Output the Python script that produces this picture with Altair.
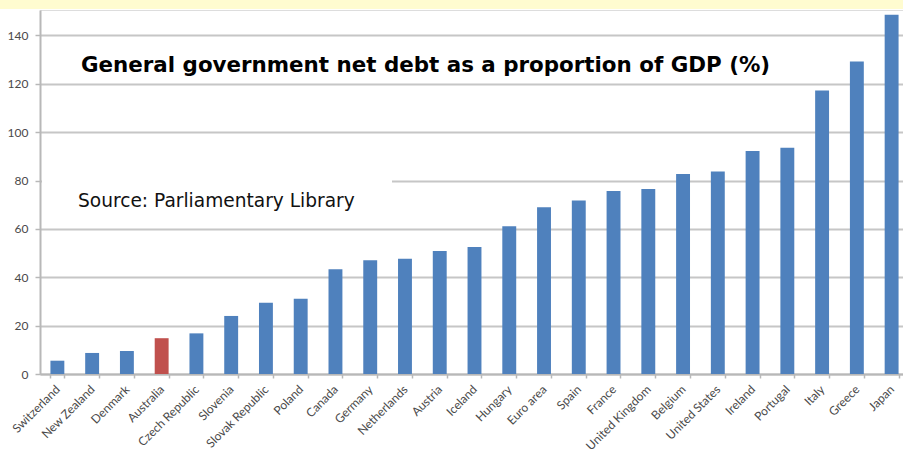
import altair as alt
import pandas as pd

countries = ["Switzerland", "New Zealand", "Denmark", "Australia", "Czech Republic",
             "Slovenia", "Slovak Republic", "Poland", "Canada", "Germany",
             "Netherlands", "Austria", "Iceland", "Hungary", "Euro area", "Spain",
             "France", "United Kingdom", "Belgium", "United States", "Ireland",
             "Portugal", "Italy", "Greece", "Japan"]
debt = [5.5, 8.7, 9.5, 14.8, 16.8, 24.0, 29.5, 31.1, 43.3, 47.0,
        47.6, 50.9, 52.5, 61.1, 68.9, 71.7, 75.7, 76.5, 82.7, 83.7,
        92.2, 93.5, 117.2, 129.2, 148.5]
highlight = ["Australia"]
y_ticks = [0, 20, 40, 60, 80, 100, 120, 140]

title_text = "General government net debt as a proportion of GDP (%)"
source_text = "Source: Parliamentary Library"

df = pd.DataFrame({
    "country": countries,
    "debt": debt,
    "group": ["hl" if c in highlight else "other" for c in countries],
})

W, H = 863, 364

bars = alt.Chart(df).mark_bar().encode(
    x=alt.X("country:N", sort=countries,
            scale=alt.Scale(range=[0, 869], paddingInner=0.6, paddingOuter=0.3),
            axis=alt.Axis(title=None, labelAngle=-45, labelAlign="right",
                          labelBaseline="middle", labelPadding=9, tickSize=4,
                          tickBand="extent", labelFont="Lato", labelFontSize=12,
                          labelColor="#4a4a4a", domainColor="#b8b8b8",
                          domainWidth=2, tickColor="#b8b8b8", tickWidth=1.5,
                          grid=False, labelOverlap=False)),
    y=alt.Y("debt:Q", scale=alt.Scale(domain=[0, 150.5], nice=False),
            axis=alt.Axis(title=None, values=y_ticks, grid=True, gridColor="#c6c6c6",
                          gridWidth=2, domainColor="#b8b8b8", domainWidth=2,
                          tickColor="#b8b8b8", tickSize=5, tickWidth=1.5,
                          labelFont="Lato", labelFontSize=12, labelColor="#4a4a4a",
                          labelPadding=7)),
    color=alt.Color("group:N", scale=alt.Scale(domain=["other", "hl"],
                                               range=["#4f81bd", "#c0504d"]),
                    legend=None),
)

strip = alt.Chart(pd.DataFrame({"a": [0]})).mark_rect(color="#fffcd0", clip=False).encode(
    x=alt.value(-40), x2=alt.value(W), y=alt.value(-10), y2=alt.value(-1))

source_bg = alt.Chart(pd.DataFrame({"a": [0]})).mark_rect(color="white").encode(
    x=alt.value(2), x2=alt.value(352), y=alt.value(162), y2=alt.value(212))

title = alt.Chart(pd.DataFrame({"t": [title_text]})).mark_text(
    font="DejaVu Sans", fontWeight="bold", fontSize=21.4, align="left",
    baseline="alphabetic", color="black").encode(
    text="t:N", x=alt.value(41), y=alt.value(62))

source = alt.Chart(pd.DataFrame({"t": [source_text]})).mark_text(
    font="DejaVu Sans", fontSize=18.6, align="left", baseline="alphabetic",
    color="#111111").encode(
    text="t:N", x=alt.value(38), y=alt.value(197))

chart = alt.layer(strip, source_bg, bars, title, source).properties(
    width=W, height=H,
    autosize=alt.AutoSizeParams(type="none"),
    padding={"left": 40, "top": 10, "right": 0, "bottom": 80},
).configure_view(stroke=None).configure(background="white")

chart.save("out.html", embed_options={"renderer": "svg", "actions": False})
